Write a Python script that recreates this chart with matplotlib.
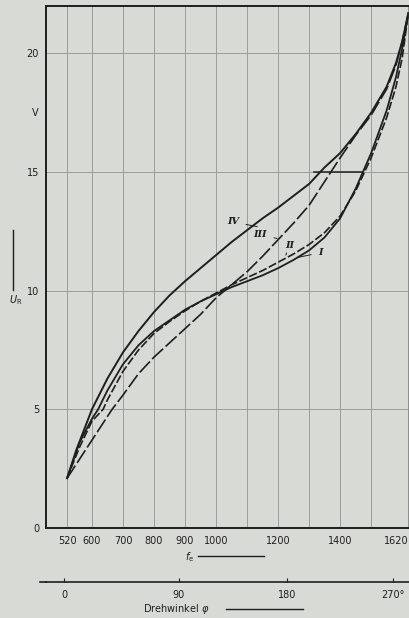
import numpy as np
import matplotlib
matplotlib.use("Agg")
import matplotlib.pyplot as plt
from matplotlib.lines import Line2D

# ---------------- data ----------------
f_I = [520, 560, 600, 620, 650, 700, 750, 800, 850, 900, 950, 1000, 1050, 1100, 1150, 1200,
       1250, 1300, 1350, 1400, 1450, 1500, 1550, 1580, 1600, 1620]
U_I = [2.1, 3.6, 4.6, 5.0, 5.8, 6.9, 7.7, 8.3, 8.75, 9.2, 9.55, 9.85, 10.15, 10.4, 10.65, 10.95,
       11.3, 11.7, 12.25, 13.05, 14.3, 15.8, 17.6, 19.0, 20.2, 21.7]

f_II = [520, 560, 600, 636, 650, 700, 750, 800, 850, 900, 950, 1000, 1050, 1100, 1150, 1200,
        1250, 1300, 1350, 1400, 1450, 1500, 1550, 1580, 1600, 1620]
U_II = [2.1, 3.4, 4.5, 5.0, 5.4, 6.6, 7.5, 8.2, 8.7, 9.15, 9.55, 9.9, 10.25, 10.55, 10.85, 11.2,
        11.55, 11.95, 12.45, 13.15, 14.2, 15.6, 17.3, 18.6, 19.8, 21.7]

f_III = [520, 560, 600, 650, 665, 700, 750, 800, 850, 900, 950, 1000, 1050, 1100, 1150, 1200,
         1250, 1300, 1350, 1400, 1450, 1500, 1550, 1580, 1600, 1620]
U_III = [2.1, 2.9, 3.7, 4.7, 5.0, 5.6, 6.5, 7.2, 7.8, 8.4, 9.0, 9.7, 10.25, 10.8, 11.45, 12.15,
         12.85, 13.6, 14.6, 15.6, 16.55, 17.4, 18.5, 19.5, 20.5, 21.7]

f_IV = [520, 550, 600, 650, 700, 750, 800, 850, 900, 950, 1000, 1050, 1100, 1150, 1200,
        1250, 1300, 1350, 1400, 1450, 1500, 1550, 1580, 1600, 1620]
U_IV = [2.1, 3.3, 5.0, 6.3, 7.4, 8.3, 9.1, 9.8, 10.4, 10.95, 11.5, 12.05, 12.55, 13.05, 13.5,
        14.0, 14.5, 15.2, 15.8, 16.6, 17.5, 18.6, 19.6, 20.5, 21.7]

# construction line at U = 15 V
f_hline = [1315, 1472]
U_hline = [15, 15]

x_ticks = [520, 600, 700, 800, 900, 1000, 1200, 1400, 1620]
x_ticklabels = ["520", "600", "700", "800", "900", "1000", "1200", "1400", "1620"]
x_grid_extra = [1100, 1300, 1500]
y_ticks = [0, 5, 10, 15, 20]
y_ticklabels = ["0", "5", "10", "15", "20"]

phi_vals = [0, 90, 180, 270]
phi_labels = ["0", "90", "180", "270°"]
phi_f_pos = [510, 880, 1230, 1570]

curve_names = ["I", "II", "III", "IV"]
label_pos_f = [1336, 1236, 1143, 1055]
label_pos_U = [11.6, 11.9, 12.35, 12.9]
leader_end_f = [1262, 1225, 1197, 1133]
leader_end_U = [11.4, 11.5, 12.2, 12.7]

# ---------------- figure ----------------
W, H = 409, 618
bg = "#d8dad5"
ink = "#1e1e1e"
gridc = "#9c9e9a"

fig = plt.figure(figsize=(W / 100, H / 100), dpi=100)
fig.patch.set_facecolor(bg)

def px(x, y):
    return x / W, 1 - y / H

ax = fig.add_axes([46 / W, (H - 528) / H, 363 / W, 522 / H])
ax.set_facecolor(bg)
ax.set_xlim(452, 1622)
ax.set_ylim(0, 22)

ax.set_xticks(x_ticks)
ax.set_xticklabels(x_ticklabels)
ax.set_xticks(x_grid_extra, minor=True)
ax.set_yticks(y_ticks)
ax.set_yticklabels(y_ticklabels)
ax.grid(which="both", axis="x", color=gridc, lw=0.7)
ax.grid(which="major", axis="y", color=gridc, lw=0.7)
ax.tick_params(which="both", length=0, labelsize=7, colors=ink)
ax.tick_params(axis="x", pad=6)
ax.tick_params(axis="y", pad=5)
ax.get_xticklabels()[-1].set_horizontalalignment("right")

for s in ["left", "bottom", "top"]:
    ax.spines[s].set_linewidth(1.4)
    ax.spines[s].set_color(ink)
ax.spines["right"].set_linewidth(1.0)
ax.spines["right"].set_color("#555555")

# curves
ax.plot(f_I, U_I, color=ink, lw=1.3, solid_joinstyle="round")
ax.plot(f_II, U_II, color=ink, lw=1.2, dashes=(5, 1.5))
ax.plot(f_III, U_III, color=ink, lw=1.2, dashes=(9, 2))
ax.plot(f_IV, U_IV, color=ink, lw=1.4, solid_joinstyle="round")
ax.plot(f_hline, U_hline, color=ink, lw=1.1)

# curve labels with leader lines
for name, lf, lu, ef, eu in zip(curve_names, label_pos_f, label_pos_U, leader_end_f, leader_end_U):
    ax.annotate(name, xy=(ef, eu), xytext=(lf, lu), fontsize=7, fontweight="bold",
                fontstyle="italic", family="DejaVu Serif", color=ink,
                ha="center", va="center",
                arrowprops=dict(arrowstyle="-", color=ink, lw=0.7, shrinkA=3, shrinkB=0))

# axis labels
fig.text(*px(39, 113), "V", ha="right", va="center", fontsize=7, color=ink)
fig.text(*px(16, 300), r"$U_\mathrm{R}$", ha="center", va="center", fontsize=7, color=ink)
fig.add_artist(Line2D([13 / W, 13 / W], [1 - 230 / H, 1 - 290 / H], color=ink, lw=1.0))
fig.text(*px(190, 557), r"$f_\mathrm{e}$", ha="center", va="center", fontsize=7, color=ink)
fig.add_artist(Line2D([198 / W, 264 / W], [1 - 556 / H, 1 - 556 / H], color=ink, lw=1.0))

# secondary scale: Drehwinkel (piecewise-linear mapping with linear extension)
def _interp_ext(x, xp, fp):
    x = np.asarray(x, dtype=float)
    y = np.interp(x, xp, fp)
    s0 = (fp[1] - fp[0]) / (xp[1] - xp[0])
    s1 = (fp[-1] - fp[-2]) / (xp[-1] - xp[-2])
    y = np.where(x < xp[0], fp[0] + (x - xp[0]) * s0, y)
    y = np.where(x > xp[-1], fp[-1] + (x - xp[-1]) * s1, y)
    return y

def fwd(f):
    return _interp_ext(f, phi_f_pos, phi_vals)

def inv(p):
    return _interp_ext(p, phi_vals, phi_f_pos)

sec = ax.secondary_xaxis(-(582 - 528) / 522, functions=(fwd, inv))
sec.set_xticks(phi_vals)
sec.set_xticklabels(phi_labels)
sec.tick_params(direction="in", length=3, width=0.8, labelsize=7, colors=ink, pad=6)
sec.spines["bottom"].set_linewidth(1.2)
sec.spines["bottom"].set_color(ink)
fig.add_artist(Line2D([40 / W, 46 / W], [1 - 582 / H, 1 - 582 / H], color=ink, lw=1.2))

fig.text(*px(143, 609), r"Drehwinkel $\varphi$", ha="left", va="center", fontsize=7, color=ink)
fig.add_artist(Line2D([226 / W, 303 / W], [1 - 609 / H, 1 - 609 / H], color=ink, lw=1.0))

fig.savefig("out.png", dpi=100, facecolor=bg)
